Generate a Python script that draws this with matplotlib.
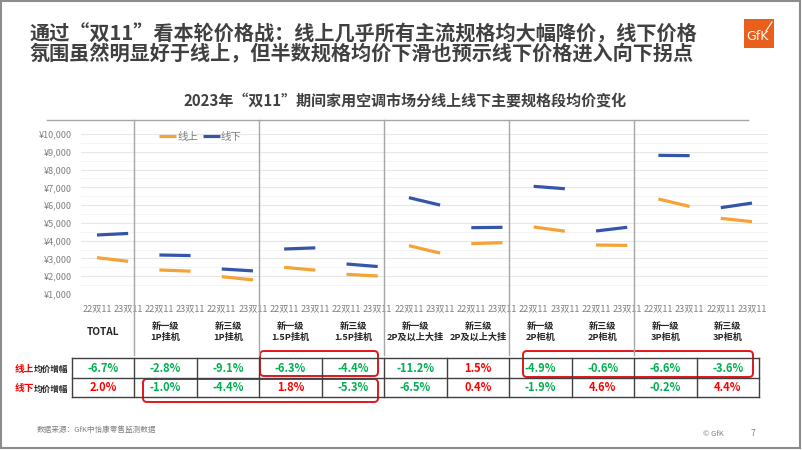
import matplotlib
matplotlib.use("Agg")
import matplotlib.pyplot as plt
from matplotlib.patches import FancyBboxPatch, Rectangle
import numpy as np

plt.rcParams['font.family'] = ['Noto Sans CJK SC', 'DejaVu Sans']

# ---------------- data ----------------
groups = ['TOTAL', '新一级\n1P挂机', '新三级\n1P挂机', '新一级\n1.5P挂机', '新三级\n1.5P挂机',
          '新一级\n2P及以上大挂', '新三级\n2P及以上大挂', '新一级\n2P柜机', '新三级\n2P柜机',
          '新一级\n3P柜机', '新三级\n3P柜机']
periods = ['22双11', '23双11']
online_22 = [3044, 2350, 1975, 2500, 2106, 3719, 3831, 4769, 3756, 6344, 5256]
online_23 = [2840, 2284, 1795, 2343, 2013, 3302, 3888, 4535, 3733, 5925, 5067]
offline_22 = [4319, 3194, 2406, 3531, 2688, 6419, 4731, 7056, 4544, 8800, 5856]
offline_23 = [4405, 3162, 2300, 3595, 2545, 6002, 4750, 6922, 4753, 8782, 6114]
online_chg = ['-6.7%', '-2.8%', '-9.1%', '-6.3%', '-4.4%', '-11.2%', '1.5%', '-4.9%', '-0.6%', '-6.6%', '-3.6%']
offline_chg = ['2.0%', '-1.0%', '-4.4%', '1.8%', '-5.3%', '-6.5%', '0.4%', '-1.9%', '4.6%', '-0.2%', '4.4%']
yticks = [1000, 2000, 3000, 4000, 5000, 6000, 7000, 8000, 9000, 10000]

title_lines = ['通过“双11”看本轮价格战：线上几乎所有主流规格均大幅降价，线下价格',
               '氛围虽然明显好于线上，但半数规格均价下滑也预示线下价格进入向下拐点']
chart_title = '2023年“双11”期间家用空调市场分线上线下主要规格段均价变化'

ORANGE = '#F5A236'
BLUE = '#3455A8'
GREEN = '#00B050'
RED = '#FF0000'
DARK = '#404040'
GRAY = '#7F7F7F'

W, H = 802, 451
fig = plt.figure(figsize=(W / 100, H / 100), dpi=100)

# ---------------- line chart ----------------
ax_l, ax_r, ax_t, ax_b = 81.4, 767.6, 134, 294
ax = fig.add_axes([ax_l / W, 1 - ax_b / H, (ax_r - ax_l) / W, (ax_b - ax_t) / H])
n = len(groups)
for i in range(n):
    xs = [2 * i, 2 * i + 1]
    ax.plot(xs, [online_22[i], online_23[i]], color=ORANGE, lw=2.3, solid_capstyle='butt',
            label='线上' if i == 0 else None)
    ax.plot(xs, [offline_22[i], offline_23[i]], color=BLUE, lw=2.3, solid_capstyle='butt',
            label='线下' if i == 0 else None)
ax.set_xlim(-0.5, 2 * n - 0.5)
ax.set_ylim(1000, 10000)
ax.set_xticks(range(2 * n))
ax.set_xticklabels(periods * n)
ax.set_yticks(yticks)
ax.set_yticklabels(['¥{:,}'.format(v) for v in yticks])
ax.set_yticks(np.arange(1500, 10000, 1000), minor=True)
ax.tick_params(axis='both', length=0, colors=GRAY)
ax.tick_params(axis='y', pad=7, labelsize=6.5)
ax.tick_params(axis='x', pad=7, labelsize=6.6)
ax.tick_params(which='minor', length=0)
ax.grid(axis='y', which='major', color='#E6E6E6', lw=0.8)
ax.grid(axis='y', which='minor', color='#F2F2F2', lw=0.6)
ax.set_axisbelow(True)
for s in ax.spines.values():
    s.set_visible(False)
ax.patch.set_alpha(0)
leg = ax.legend(ncol=2, frameon=False, loc='center left',
                bbox_to_anchor=(151 / W, 1 - 137 / H), bbox_transform=fig.transFigure,
                handlelength=1.6, handletextpad=0.1, columnspacing=0.5, fontsize=7.5,
                borderpad=0.3)
for t in leg.get_texts():
    t.set_color(GRAY)

# ---------------- overlay (pixel coords) ----------------
ov = fig.add_axes([0, 0, 1, 1])
ov.set_xlim(0, W)
ov.set_ylim(H, 0)
ov.axis('off')
ov.patch.set_alpha(0)

# frame
ov.add_patch(Rectangle((1, 1), 799, 447, fill=False, ec='#8C8C8C', lw=1.5))

# titles
ov.text(30, 33.5, title_lines[0], fontsize=14.5, fontweight='bold', color=DARK, va='center', ha='left')
ov.text(30, 53.5, title_lines[1], fontsize=14.5, fontweight='bold', color=DARK, va='center', ha='left')
ov.text(405, 101, chart_title, fontsize=10.8, fontweight='bold', color=DARK, va='center', ha='center')

# logo
ov.add_patch(Rectangle((744, 19), 30, 29, color='#E8601C', lw=0))
ov.text(757, 36, 'GfK', color='white', fontsize=9, ha='center', va='center', family='DejaVu Sans')
ov.plot([766, 772], [31, 22], color='white', lw=0.8)

# table geometry
t_left, t_right = 72, 759
col_w = (t_right - t_left) / n
row_top, row_mid, row_bot = 358, 378, 397

# top border and separators
ov.plot([47, 748], [120, 120], color='#A6A6A6', lw=1)
for k in range(1, n, 2):
    xk = t_left + k * col_w
    ov.plot([xk, xk], [120, 355], color='#A6A6A6', lw=1)

# header row
for i, g in enumerate(groups):
    cx = t_left + (i + 0.5) * col_w
    ov.text(cx, 332, g, fontsize=6.6 if i else 7.3, fontweight='bold', color='#262626',
            ha='center', va='center', linespacing=1.25)

# table body
for yy in (row_top, row_mid, row_bot):
    ov.plot([t_left, t_right], [yy, yy], color='#404040', lw=1)
for k in range(n + 1):
    xk = t_left + k * col_w
    ov.plot([xk, xk], [row_top, row_bot], color='#404040', lw=1)

def col(v):
    return RED if not v.startswith('-') else GREEN

for i in range(n):
    cx = t_left + (i + 0.5) * col_w
    ov.text(cx, (row_top + row_mid) / 2, online_chg[i], fontsize=8, fontweight='bold',
            color=col(online_chg[i]), ha='center', va='center')
    ov.text(cx, (row_mid + row_bot) / 2, offline_chg[i], fontsize=8, fontweight='bold',
            color=col(offline_chg[i]), ha='center', va='center')

# row labels
for yy, lab in (((row_top + row_mid) / 2, '线上'), ((row_mid + row_bot) / 2, '线下')):
    ov.text(15, yy + 1, lab, fontsize=7, fontweight='bold', color=RED, ha='left', va='center')
    ov.text(33.5, yy + 1.5, '均价增幅', fontsize=6.2, fontweight='bold', color='#262626',
            ha='left', va='center')

# red rounded boxes
boxes = [(260, 351, 378, 376), (143, 379, 378, 402), (523, 351, 753, 377)]
for x0, y0, x1, y1 in boxes:
    ov.add_patch(FancyBboxPatch((x0 + 4, y0 + 4), x1 - x0 - 8, y1 - y0 - 8,
                                boxstyle='round,pad=4', fill=False, ec='#E0161B', lw=1.4))

# footer
ov.text(37, 430, '数据来源：GfK中怡康零售监测数据', fontsize=5.5, color=GRAY, ha='left', va='center')
ov.text(703, 434, '© GfK', fontsize=5.5, color=GRAY, ha='left', va='center')
ov.text(753, 434, '7', fontsize=6, color=GRAY, ha='center', va='center')

fig.savefig('out.png', dpi=100)
